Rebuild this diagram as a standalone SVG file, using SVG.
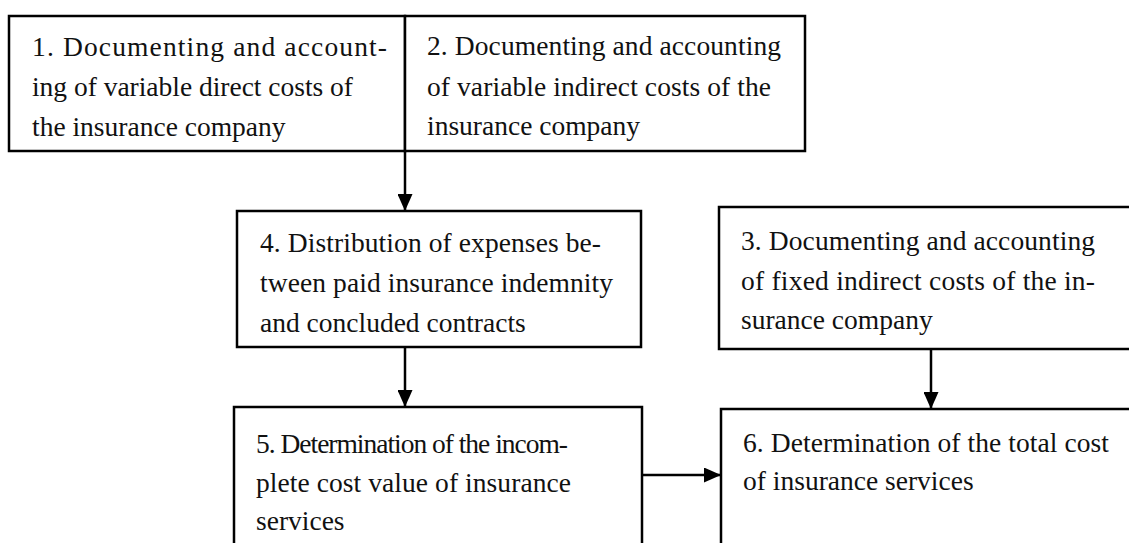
<svg xmlns="http://www.w3.org/2000/svg" width="1129" height="543" viewBox="0 0 1129 543">
<style>
.box{fill:#fff;stroke:#000;stroke-width:2.5}
.t{font-family:"Liberation Serif","Times New Roman",serif;font-size:27.5px;fill:#111}
.c{stroke:#000;stroke-width:2.5;fill:none}
</style>
<defs>
<marker id="ah" markerUnits="userSpaceOnUse" markerWidth="17" markerHeight="15" refX="17" refY="7.5" orient="auto" viewBox="0 0 17 15">
<path d="M0,0 L17,7.5 L0,15 Z" fill="#000"/>
</marker>
</defs>
<rect width="1129" height="543" fill="#fff"/>
<g id="node1">
<rect class="box" x="9" y="16" width="396" height="135"/>
<text class="t" x="32" y="56" textLength="355">1. Documenting and account-</text>
<text class="t" x="32" y="96" textLength="321">ing of variable direct costs of</text>
<text class="t" x="32" y="136">the insurance company</text>
</g>
<g id="node2">
<rect class="box" x="405" y="16" width="400" height="135"/>
<text class="t" x="427" y="55" textLength="354">2. Documenting and accounting</text>
<text class="t" x="427" y="96" textLength="344">of variable indirect costs of the</text>
<text class="t" x="427" y="135">insurance company</text>
</g>
<g id="node4">
<rect class="box" x="237" y="211" width="404" height="136"/>
<text class="t" x="260" y="252" textLength="341">4. Distribution of expenses be-</text>
<text class="t" x="260" y="292" textLength="353">tween paid insurance indemnity</text>
<text class="t" x="260" y="332">and concluded contracts</text>
</g>
<g id="node3">
<rect class="box" x="719" y="207" width="430" height="142"/>
<text class="t" x="741" y="250" textLength="354">3. Documenting and accounting</text>
<text class="t" x="741" y="290" textLength="354">of fixed indirect costs of the in-</text>
<text class="t" x="741" y="329">surance company</text>
</g>
<g id="node5">
<rect class="box" x="234" y="407" width="408" height="160"/>
<text class="t" x="256" y="453" textLength="312">5. Determination of the incom-</text>
<text class="t" x="256" y="492" textLength="315">plete cost value of insurance</text>
<text class="t" x="256" y="530">services</text>
</g>
<g id="node6">
<rect class="box" x="721" y="409" width="430" height="160"/>
<text class="t" x="743" y="452" textLength="366">6. Determination of the total cost</text>
<text class="t" x="743" y="490">of insurance services</text>
</g>
<g id="connectors">
<line class="c" x1="405" y1="151" x2="405" y2="211" marker-end="url(#ah)"/>
<line class="c" x1="405" y1="347" x2="405" y2="407" marker-end="url(#ah)"/>
<line class="c" x1="931" y1="349" x2="931" y2="409" marker-end="url(#ah)"/>
<line class="c" x1="642" y1="475" x2="721" y2="475" marker-end="url(#ah)"/>
</g>
</svg>
